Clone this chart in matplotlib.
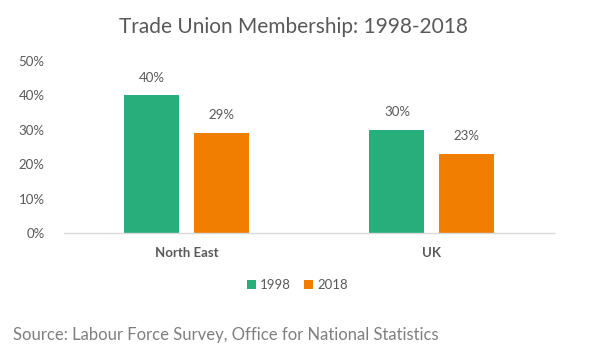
import numpy as np
import matplotlib
matplotlib.use("Agg")
import matplotlib.pyplot as plt
from matplotlib.ticker import PercentFormatter

regions = ["North East", "UK"]
years = ["1998", "2018"]
share_1998 = [40, 30]
share_2018 = [29, 23]
labels_1998 = ["40%", "30%"]
labels_2018 = ["29%", "23%"]

plt.rcParams["font.family"] = ["Lato", "DejaVu Sans"]
text_col = "#595959"
green = "#27AE7B"
orange = "#F07E00"

fig = plt.figure(figsize=(5.91, 3.54), dpi=100)
ax = fig.add_axes([0.1083, 0.3418, 0.8291, 0.4859])

x = np.arange(len(regions))
w = 0.2245
off = 0.141
b1 = ax.bar(x - off, share_1998, w, color=green, label=years[0])
b2 = ax.bar(x + off, share_2018, w, color=orange, label=years[1])

for bars, labs in [(b1, labels_1998), (b2, labels_2018)]:
    for rect, lab in zip(bars, labs):
        ax.annotate(lab, (rect.get_x() + rect.get_width() / 2, rect.get_height()),
                    xytext=(0, 8.5), textcoords="offset points", ha="center", va="bottom",
                    fontsize=9.5, color=text_col)

ax.set_xlim(-0.5, 1.5)
ax.set_ylim(0, 50)
ax.set_yticks(np.arange(0, 51, 10))
ax.yaxis.set_major_formatter(PercentFormatter(decimals=0))
ax.set_xticks(x)
ax.set_xticklabels(regions, fontweight="bold")
ax.tick_params(axis="both", length=0, labelsize=9.5, colors=text_col)
ax.tick_params(axis="x", pad=10)
ax.tick_params(axis="y", pad=14)
for s in ["top", "right", "left"]:
    ax.spines[s].set_visible(False)
ax.spines["bottom"].set_color("#D9D9D9")
ax.spines["bottom"].set_linewidth(1)

fig.text(0.497, 0.923, "Trade Union Membership: 1998-2018", ha="center", va="center",
         fontsize=15, color=text_col)

fig.legend(handles=[b1, b2], labels=years, loc="center", bbox_to_anchor=(0.503, 0.195),
           ncol=2, frameon=False, fontsize=9.5, labelcolor=text_col,
           handlelength=0.7, handleheight=0.7, handletextpad=0.3, columnspacing=1.0)

fig.text(0.022, 0.055, "Source: Labour Force Survey, Office for National Statistics",
         ha="left", va="center", fontsize=12, color="#7F7F7F")

fig.savefig("out.png", dpi=100)
